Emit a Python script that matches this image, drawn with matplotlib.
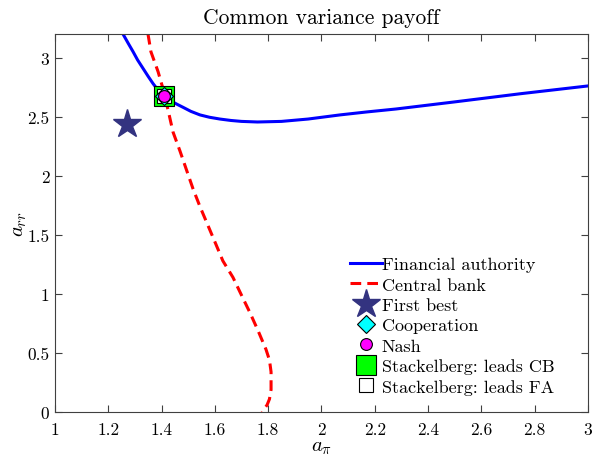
import numpy as np
import matplotlib
matplotlib.use("Agg")
import matplotlib.pyplot as plt

plt.rcParams['font.family'] = ['cmr10', 'DejaVu Serif']
plt.rcParams['mathtext.fontset'] = 'cm'
plt.rcParams['axes.formatter.use_mathtext'] = True

# reaction function of the financial authority
fa_x = [1.255, 1.275, 1.293, 1.31, 1.330, 1.35, 1.368, 1.385, 1.405, 1.43,
        1.458, 1.48, 1.51, 1.544, 1.58, 1.619, 1.66, 1.70, 1.76,
        1.85, 1.95, 2.07, 2.17, 2.28, 2.50, 2.75, 3.00]
fa_y = [3.20, 3.12, 3.05, 2.98, 2.91, 2.84, 2.78, 2.73, 2.68, 2.64,
        2.605, 2.58, 2.545, 2.515, 2.495, 2.48, 2.468, 2.46, 2.455,
        2.46, 2.48, 2.515, 2.54, 2.565, 2.625, 2.695, 2.76]

# reaction function of the central bank
cb_x = [1.349, 1.36, 1.387, 1.405, 1.425, 1.443, 1.469, 1.495, 1.518, 1.544, 1.574,
        1.604, 1.630, 1.668, 1.702, 1.732, 1.762, 1.792, 1.805, 1.811, 1.811,
        1.805, 1.796, 1.777]
cb_y = [3.20, 3.05, 2.88, 2.74, 2.55, 2.37, 2.21, 2.04, 1.89, 1.74, 1.58,
        1.42, 1.28, 1.14, 0.98, 0.84, 0.69, 0.53, 0.44, 0.34, 0.19,
        0.11, 0.06, 0.0]

first_best = (1.27, 2.44)
coop = (1.41, 2.675)
nash = (1.41, 2.675)
stack_cb = (1.41, 2.675)
stack_fa = (1.41, 2.675)

fig = plt.figure(figsize=(5.94, 4.6), dpi=100)
ax = fig.add_axes([0.0926, 0.102, 0.897, 0.822])

ax.plot(fa_x, fa_y, color='#0000ff', lw=2.2, label='Financial authority')
ax.plot(cb_x, cb_y, color='#ff0000', lw=2.2, ls=(0, (3.5, 2)),
        label='Central bank')
ax.plot(*first_best, ls='none', marker='*', ms=21, color='#333380',
        mec='#333380', label='First best')
ax.plot(*stack_cb, ls='none', marker='s', ms=14, mfc='#00ff00', mec='k',
        mew=0.8, label='Stackelberg: leads CB', zorder=3)
ax.plot(*stack_fa, ls='none', marker='s', ms=10.5, mfc='white', mec='k',
        mew=0.8, label='Stackelberg: leads FA', zorder=4)
ax.plot(*coop, ls='none', marker='D', ms=9, mfc='#00ffff', mec='k',
        mew=0.8, label='Cooperation', zorder=5)
ax.plot(*nash, ls='none', marker='o', ms=8.5, mfc='#ff00ff', mec='k',
        mew=0.8, label='Nash', zorder=6)

handles, labels = ax.get_legend_handles_labels()
order = ['Financial authority', 'Central bank', 'First best', 'Cooperation',
         'Nash', 'Stackelberg: leads CB', 'Stackelberg: leads FA']
hmap = dict(zip(labels, handles))
ax.legend([hmap[k] for k in order], order, loc='lower left',
          bbox_to_anchor=(0.527, 0.008), frameon=False, fontsize=13,
          handlelength=1.75, handletextpad=0.0, labelspacing=0.26,
          borderpad=0.3)

ax.set_xlim(1, 3)
ax.set_ylim(0, 3.2)
ax.set_xticks(np.arange(1, 3.01, 0.2))
ax.set_xticklabels(['1', '1.2', '1.4', '1.6', '1.8', '2', '2.2', '2.4', '2.6', '2.8', '3'])
ax.set_yticks(np.arange(0, 3.01, 0.5))
ax.set_yticklabels(['0', '0.5', '1', '1.5', '2', '2.5', '3'])
ax.tick_params(direction='in', top=True, right=True, labelsize=12.5,
               color='#404040', length=5, width=0.8, pad=4)
ax.tick_params(axis='x', pad=7)
for s in ax.spines.values():
    s.set_color('#404040')
    s.set_linewidth(0.8)

ax.set_xlabel(r'$a_{\pi}$', fontsize=15, labelpad=1)
ax.set_ylabel(r'$a_{rr}$', fontsize=15, labelpad=-1)
ax.set_title('Common variance payoff', fontsize=15.5, pad=8)

fig.savefig('out.png', dpi=100)
